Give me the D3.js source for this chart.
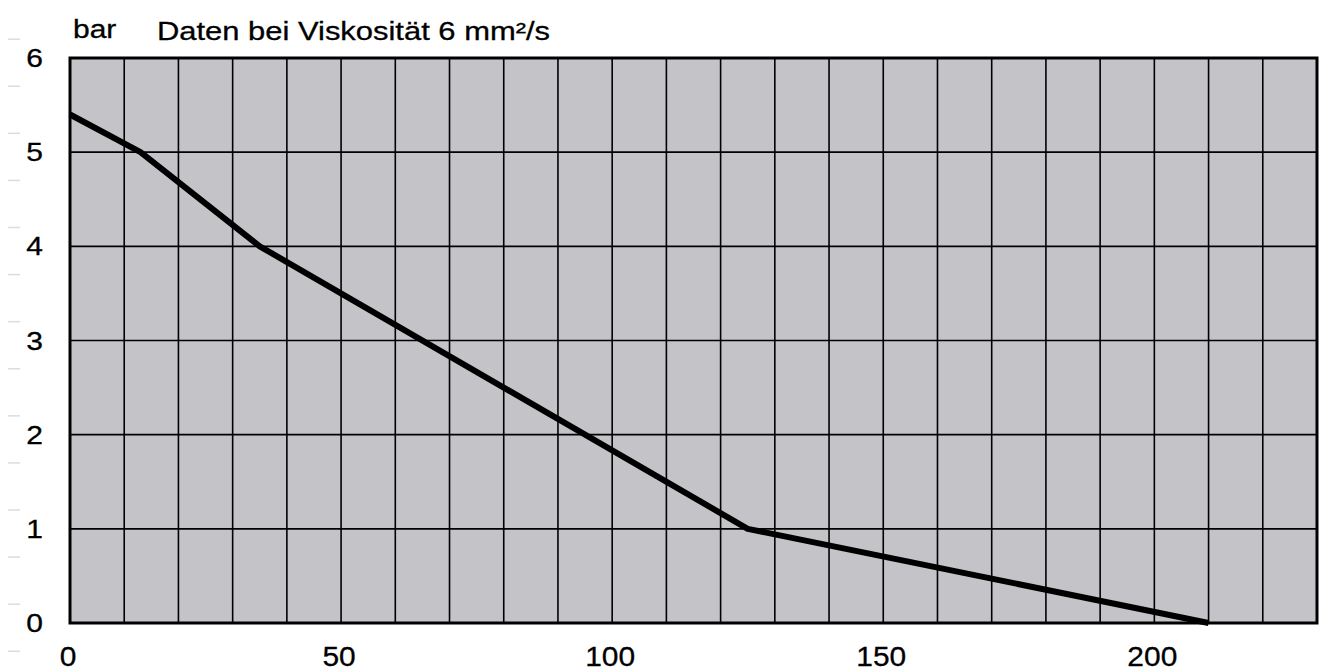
<!DOCTYPE html>
<html><head><meta charset="utf-8">
<script src="https://cdn.jsdelivr.net/npm/d3@7/dist/d3.min.js"></script>
<style>body{margin:0;background:#fff;}text{font-family:"Liberation Sans",Arial,sans-serif;fill:#000;stroke:#000;stroke-width:0.3;}</style>
</head><body>
<svg id="c" width="1322" height="671"></svg>
<script>
const flowValues = [0, 13, 35, 125, 210];
const pressureValues = [5.4, 5.0, 4.0, 1.0, 0];
const xTickLabels = [0, 50, 100, 150, 200];
const yTickLabels = [0, 1, 2, 3, 4, 5, 6];
const xGrid = d3.range(0, 231, 10);
const sideMarks = [6.2, 5.7, 5.2, 4.7, 4.2, 3.7, 3.2, 2.7, 2.2, 1.7, 1.2, 0.7, 0.2, -0.3];
const unitLabel = "bar";
const titleText = "Daten bei Viskosität 6 mm²/s";

const svg = d3.select("#c");
const x = d3.scaleLinear().domain([0, 230]).range([70, 1317]);
const y = d3.scaleLinear().domain([0, 6]).range([623, 58]);

svg.append("rect").attr("x", x(0)).attr("y", y(6)).attr("width", x(230) - x(0)).attr("height", y(0) - y(6)).attr("fill", "#c4c3c8");

svg.append("g").selectAll("line").data(xGrid).join("line")
  .attr("x1", d => x(d)).attr("x2", d => x(d)).attr("y1", y(6)).attr("y2", y(0))
  .attr("stroke", "#000").attr("stroke-width", 1.6);
svg.append("g").selectAll("line").data(yTickLabels).join("line")
  .attr("x1", x(0)).attr("x2", x(230)).attr("y1", d => y(d)).attr("y2", d => y(d))
  .attr("stroke", "#000").attr("stroke-width", 1.6);

svg.append("rect").attr("x", x(0)).attr("y", y(6)).attr("width", x(230) - x(0)).attr("height", y(0) - y(6))
  .attr("fill", "none").attr("stroke", "#000").attr("stroke-width", 3);

const pts = flowValues.map((d, i) => [d, pressureValues[i]]);
svg.append("path").datum(pts)
  .attr("d", d3.line().x(d => x(d[0])).y(d => y(d[1])))
  .attr("fill", "none").attr("stroke", "#000").attr("stroke-width", 6).attr("stroke-linejoin", "round");

svg.append("g").selectAll("line").data(sideMarks).join("line")
  .attr("x1", 8).attr("x2", 20).attr("y1", d => y(d)).attr("y2", d => y(d))
  .attr("stroke", "#dcdcdc").attr("stroke-width", 1.5);

svg.append("g").selectAll("text").data(yTickLabels).join("text")
  .attr("transform", d => `translate(43,${y(d)}) scale(1.2,1)`)
  .attr("text-anchor", "end").attr("dy", "0.36em").attr("font-size", 25).text(d => d);

svg.append("g").selectAll("text").data(xTickLabels).join("text")
  .attr("transform", d => `translate(${x(d) - 2},${656}) scale(1.07,1)`)
  .attr("text-anchor", "middle").attr("dy", "0.36em").attr("font-size", 28).text(d => d);

svg.append("text").attr("transform", `translate(73,38) scale(1.2,1)`).attr("font-size", 25).text(unitLabel);
svg.append("text").attr("transform", `translate(157,40) scale(1.19,1)`).attr("font-size", 26).text(titleText);
</script>
</body></html>
